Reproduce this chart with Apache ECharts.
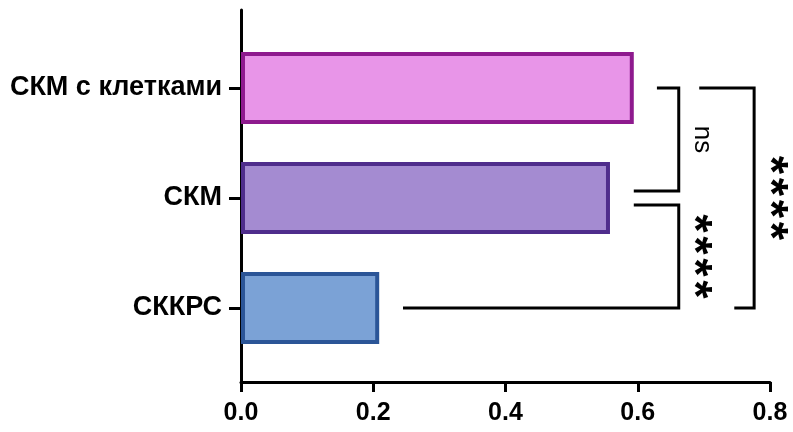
<!DOCTYPE html>
<html>
<head>
<meta charset="utf-8">
<script src="https://cdn.jsdelivr.net/npm/echarts@6/dist/echarts.min.js"></script>
<style>html,body{margin:0;padding:0;background:#fff}#c{width:793px;height:432px}</style>
</head>
<body>
<div id="c"></div>
<script>
// ---- data ----
const categories = ['СККРС', 'СКМ', 'СКМ с клетками']; // bottom to top
const values = [0.209, 0.558, 0.594];
const xTicks = [0, 0.2, 0.4, 0.6, 0.8];
const fillColors = ['#7ba2d6', '#a48bd1', '#e895e8'];
const borderColors = ['#2b5597', '#4f2d8c', '#8e1a8e'];
// significance brackets: top category, bottom category, x of top arm start, x of bottom arm start, x of vertical line
const bracketTop = [2, 1, 2];
const bracketBottom = [1, 0, 0];
const bracketTopX = [0.629, 0.594, 0.693];
const bracketBottomX = [0.594, 0.245, 0.746];
const bracketVertX = [0.662, 0.662, 0.776];
const bracketLabels = ['ns', '****', '****'];
const bracketGapTop = [false, true, false];
const bracketGapBottom = [true, false, false];

const FONT = 'Liberation Sans, Arial, sans-serif';
const chart = echarts.init(document.getElementById('c'), null, {renderer: 'canvas'});

const bracketData = bracketLabels.map((l, i) => [bracketTopX[i], bracketTop[i], bracketBottomX[i], bracketBottom[i], bracketVertX[i]]);

chart.setOption({
  animation: false,
  backgroundColor: '#ffffff',
  grid: [
    {left: 241, right: 23, top: 33, height: 330},
    {left: 241, right: 23, top: 10, height: 372}
  ],
  xAxis: [
    {gridIndex: 0, type: 'value', min: 0, max: 0.8, interval: 0.2, show: false},
    {gridIndex: 1, type: 'value', min: xTicks[0], max: xTicks[xTicks.length - 1], interval: 0.2,
      axisLine: {show: true, lineStyle: {color: '#000', width: 3}},
      axisTick: {show: true, length: 10, lineStyle: {color: '#000', width: 3}},
      splitLine: {show: false},
      axisLabel: {margin: 19, color: '#000', fontSize: 25, fontWeight: 'bold', fontFamily: FONT,
        formatter: v => v.toFixed(1)}
    }
  ],
  yAxis: [
    {gridIndex: 0, type: 'category', data: categories,
      axisLine: {show: false},
      axisTick: {show: true, alignWithLabel: true, length: 12, lineStyle: {color: '#000', width: 3}},
      axisLabel: {margin: 19, color: '#000', fontSize: 27, fontWeight: 'bold', fontFamily: FONT},
      splitLine: {show: false}
    },
    {gridIndex: 1, type: 'value', min: 0, max: 1,
      axisLine: {show: true, lineStyle: {color: '#000', width: 3}},
      axisTick: {show: false}, axisLabel: {show: false}, splitLine: {show: false}
    }
  ],
  series: [
    {
      type: 'bar', xAxisIndex: 0, yAxisIndex: 0, barWidth: 72,
      data: values.map((v, i) => ({value: v, itemStyle: {color: fillColors[i], borderColor: borderColors[i], borderWidth: 4}})),
      z: 2
    },
    {
      type: 'custom', xAxisIndex: 0, yAxisIndex: 0, clip: false, z: 5,
      encode: {x: [0, 2, 4], y: [1, 3]},
      data: bracketData,
      renderItem: function (params, api) {
        const i = params.dataIndex;
        const gap = 7;
        const top = api.coord([api.value(0), api.value(1)]);
        const bot = api.coord([api.value(2), api.value(3)]);
        const vx = api.coord([api.value(4), 0])[0];
        const ty = top[1] + (bracketGapTop[i] ? gap : 0);
        const by = bot[1] - (bracketGapBottom[i] ? gap : 0);
        const my = (ty + by) / 2;
        const ls = {stroke: '#000', lineWidth: 3, fill: null};
        const children = [
          {type: 'polyline', shape: {points: [[top[0], ty], [vx, ty], [vx, by], [bot[0], by]]}, style: ls}
        ];
        const label = bracketLabels[i];
        if (label === 'ns') {
          children.push({type: 'text', x: vx + 23, y: my, rotation: -Math.PI / 2,
            style: {text: label, x: 0, y: 0, align: 'center', verticalAlign: 'middle', fill: '#000',
              font: 'normal 26px ' + FONT}});
        } else {
          const n = label.length, step = 22;
          for (let k = 0; k < n; k++) {
            children.push({type: 'text', x: vx + 25 - 10.5, y: my + (k - (n - 1) / 2) * step,
              rotation: -Math.PI / 2,
              style: {text: '*', x: 0, y: 0, align: 'center', verticalAlign: 'middle', fill: '#000',
                font: 'bold 47px ' + FONT}});
          }
        }
        return {type: 'group', children: children};
      }
    }
  ]
});
</script>
</body>
</html>
